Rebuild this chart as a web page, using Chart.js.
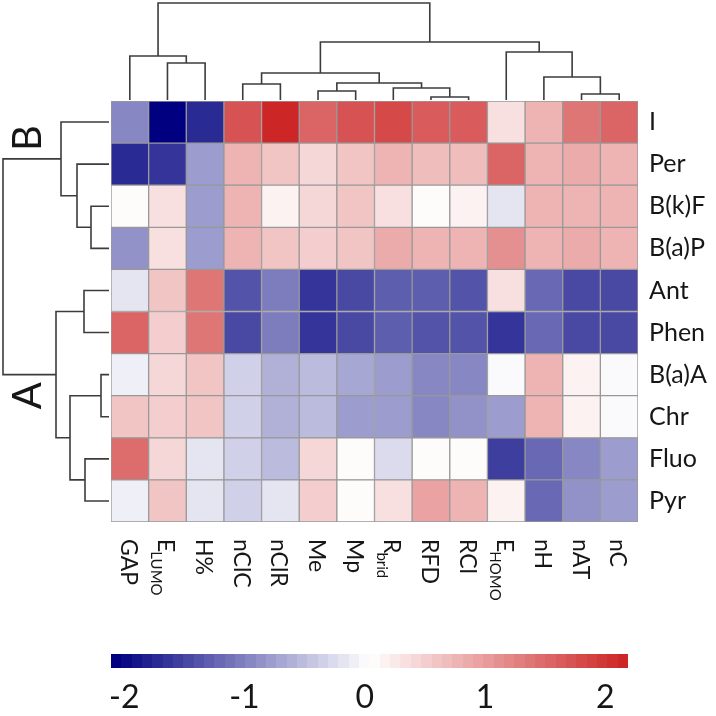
<!DOCTYPE html>
<html><head><meta charset="utf-8">
<script src="https://cdn.jsdelivr.net/npm/chart.js@4.4.1/dist/chart.umd.min.js"></script>
<style>
html,body{margin:0;padding:0;background:#fff;}
#wrap{position:relative;width:716px;height:716px;overflow:hidden;background:#fff;}
.box{position:absolute;}
</style></head><body>
<div id="wrap">
  <div class="box" style="left:0;top:0;width:716px;height:716px"><canvas id="heat"></canvas></div>
  <div class="box" style="left:111px;top:0;width:527px;height:101px"><canvas id="topd"></canvas></div>
  <div class="box" style="left:0;top:101px;width:111px;height:421px"><canvas id="leftd"></canvas></div>
  <div class="box" style="left:0;top:640px;width:716px;height:76px"><canvas id="cbar"></canvas></div>
</div>
<script>
// ---------- DATA ----------
const colLabels = ['GAP','E','H%','nClC','nClR','Me','Mp','R','RFD','RCl','E','nH','nAT','nC'];
const colSubs   = ['','LUMO','','','','','','brid','','','HOMO','','',''];
const rowLabels = ['I','Per','B(k)F','B(a)P','Ant','Phen','B(a)A','Chr','Fluo','Pyr'];

const vI    = [-0.95,-2.11,-1.76, 1.75, 2.19, 1.52, 1.68, 1.78, 1.59, 1.66, 0.31, 0.74, 1.38, 1.58];
const vPer  = [-1.75,-1.68,-0.74, 0.73, 0.58, 0.46, 0.62, 0.73, 0.72, 0.72, 1.58, 0.75, 0.82, 0.75];
const vBkF  = [ 0.10, 0.33,-0.74, 0.75, 0.21, 0.46, 0.63, 0.30, 0.08, 0.18,-0.14, 0.75, 0.80, 0.75];
const vBaP  = [-0.90, 0.38,-0.74, 0.73, 0.58, 0.50, 0.63, 0.85, 0.80, 0.80, 1.14, 0.75, 0.82, 0.75];
const vAnt  = [-0.20, 0.63, 1.37,-1.39,-1.05,-1.60,-1.43,-1.29,-1.27,-1.35, 0.35,-1.20,-1.43,-1.43];
const vPhen = [ 1.53, 0.50, 1.40,-1.43,-1.07,-1.60,-1.43,-1.32,-1.35,-1.39,-1.62,-1.22,-1.43,-1.43];
const vBaA  = [-0.05, 0.45, 0.58,-0.37,-0.64,-0.55,-0.72,-0.80,-0.98,-0.92,-0.03, 0.75, 0.20,-0.02];
const vChr  = [ 0.63, 0.50, 0.58,-0.37,-0.64,-0.55,-0.74,-0.82,-0.98,-0.90,-0.74, 0.75, 0.20,-0.02];
const vFluo = [ 1.50, 0.45,-0.18,-0.37,-0.50, 0.46, 0.06,-0.24, 0.07, 0.08,-1.58,-1.22,-0.92,-0.76];
const vPyr  = [-0.10, 0.58,-0.18,-0.33,-0.20, 0.50, 0.08, 0.30, 0.98, 0.77, 0.20,-1.22,-0.90,-0.74];

// dendrograms, hclust style: negative = leaf (display order, 1-based), positive = earlier merge (1-based); third = height
const colMerges = [
  [-9,-10,3],[-13,-14,6],[-6,-7,9],[-8,1,12],[-4,-5,16],[3,4,17],
  [-12,2,23],[5,6,27],[-2,-3,37],[-1,9,44],[-11,7,48],[8,11,58],[10,12,97]
];
const rowMerges = [
  [-7,-8,8],[-3,-4,18],[-9,-10,24],[-5,-6,25],[-2,2,32],[1,3,39],[-1,5,48],[4,6,53],[7,8,106]
];
const clusterLabels = ['B','A'];
const colorbarTicks = [-2,-1,0,1,2];

// ---------- COLOURS (navy - white - firebrick3, 50 bins) ----------
const values = [vI,vPer,vBkF,vBaP,vAnt,vPhen,vBaA,vChr,vFluo,vPyr];
const allVals = values.flat();
const vmin = Math.min(...allVals), vmax = Math.max(...allVals);
const nBins = 50;
function ramp(t){
  const navy=[0,0,128], white=[255,255,255], fb=[205,38,38];
  let a,b,f;
  if(t<=0.5){a=navy;b=white;f=t/0.5;} else {a=white;b=fb;f=(t-0.5)/0.5;}
  const c=a.map((x,i)=>Math.round(x+(b[i]-x)*f));
  return `rgb(${c[0]},${c[1]},${c[2]})`;
}
const binColors = Array.from({length:nBins},(_,k)=>ramp(k/(nBins-1)));
function colorFor(v){
  let k=Math.floor((v-vmin)/(vmax-vmin)*nBins);
  k=Math.max(0,Math.min(nBins-1,k));
  return binColors[k];
}

const FONT = "Lato, 'Open Sans', sans-serif";
const TXT = '#161616';

// ---------- HEATMAP ----------
const heatDatasets = [];
for(let r=rowLabels.length-1;r>=0;r--){
  heatDatasets.push({
    label: rowLabels[r],
    data: colLabels.map(()=>1),
    backgroundColor: values[r].map(colorFor),
    borderColor:'#999999', borderWidth:1, borderSkipped:false,
    barPercentage:1, categoryPercentage:1
  });
}
const labelPlugin = {
  id:'labels',
  afterDraw(chart){
    const ctx=chart.ctx, ca=chart.chartArea, xs=chart.scales.x, ys=chart.scales.y;
    ctx.save();
    ctx.fillStyle=TXT;
    // row labels
    ctx.font=`25px ${FONT}`; ctx.textAlign='left'; ctx.textBaseline='middle';
    rowLabels.forEach((lab,r)=>{
      ctx.fillText(lab, ca.right+11, ys.getPixelForValue(rowLabels.length-r-0.5));
    });
    // column labels (rotated, reading downwards)
    colLabels.forEach((lab,i)=>{
      const cx=xs.getPixelForValue(i);
      ctx.save();
      ctx.translate(cx, ca.bottom+17);
      ctx.rotate(Math.PI/2);
      ctx.textAlign='left'; ctx.textBaseline='alphabetic';
      ctx.font=`23px ${FONT}`;
      ctx.fillText(lab,0,9);
      if(colSubs[i]){
        const w=ctx.measureText(lab).width;
        ctx.font=`15px ${FONT}`;
        ctx.fillText(colSubs[i], w-1, 16);
      }
      ctx.restore();
    });
    ctx.restore();
  }
};
new Chart(document.getElementById('heat'),{
  type:'bar',
  data:{labels:colLabels.map((l,i)=>l+colSubs[i]), datasets:heatDatasets},
  options:{
    responsive:true, maintainAspectRatio:false, animation:false,
    layout:{padding:{left:111,right:78,top:101,bottom:194}},
    scales:{
      x:{stacked:true, display:false},
      y:{stacked:true, display:false, min:0, max:rowLabels.length}
    },
    plugins:{legend:{display:false}, tooltip:{enabled:false}}
  },
  plugins:[labelPlugin]
});

// ---------- DENDROGRAMS ----------
function buildLinks(merges){
  const pos=[], ht=[], links=[];
  merges.forEach(([a,b,h],i)=>{
    const pa = a<0 ? -a-1 : pos[a-1], ha = a<0 ? 0 : ht[a-1];
    const pb = b<0 ? -b-1 : pos[b-1], hb = b<0 ? 0 : ht[b-1];
    pos[i]=(pa+pb)/2; ht[i]=h;
    links.push([[pa,ha],[pa,h],[pb,h],[pb,hb]]);
  });
  return {links,pos,ht};
}
const lineStyle = {showLine:true, pointRadius:0, borderColor:'#3c3c3c', borderWidth:1.6, clip:false, tension:0};
const topL = buildLinks(colMerges);
new Chart(document.getElementById('topd'),{
  type:'scatter',
  data:{datasets: topL.links.map(l=>Object.assign({data:l.map(p=>({x:p[0],y:p[1]}))},lineStyle))},
  options:{
    responsive:true, maintainAspectRatio:false, animation:false,
    layout:{padding:0},
    scales:{x:{type:'linear',min:-0.5,max:colLabels.length-0.5,display:false},
            y:{type:'linear',min:-1,max:100,display:false}},
    plugins:{legend:{display:false},tooltip:{enabled:false}}
  }
});
const leftL = buildLinks(rowMerges);
const abPlugin = {
  id:'ab',
  afterDraw(chart){
    const ctx=chart.ctx, xs=chart.scales.x, ys=chart.scales.y;
    const spots=[[83,0.38],[83,6.5]];
    ctx.save();
    ctx.fillStyle=TXT; ctx.font=`40px ${FONT}`; ctx.textAlign='center'; ctx.textBaseline='middle';
    clusterLabels.forEach((lab,i)=>{
      ctx.save();
      ctx.translate(xs.getPixelForValue(spots[i][0]), ys.getPixelForValue(spots[i][1]));
      ctx.rotate(-Math.PI/2);
      ctx.fillText(lab,0,2);
      ctx.restore();
    });
    ctx.restore();
  }
};
new Chart(document.getElementById('leftd'),{
  type:'scatter',
  data:{datasets: leftL.links.map(l=>Object.assign({data:l.map(p=>({x:p[1],y:p[0]}))},lineStyle))},
  options:{
    responsive:true, maintainAspectRatio:false, animation:false,
    layout:{padding:0},
    scales:{x:{type:'linear',reverse:true,min:-2,max:109,display:false},
            y:{type:'linear',reverse:true,min:-0.5,max:rowLabels.length-0.5,display:false}},
    plugins:{legend:{display:false},tooltip:{enabled:false}}
  },
  plugins:[abPlugin]
});

// ---------- COLOUR BAR ----------
new Chart(document.getElementById('cbar'),{
  type:'bar',
  data:{labels:['scale'], datasets:[{
    data:[[vmin,vmax]],
    backgroundColor:(c)=>{
      const ch=c.chart; if(!ch.chartArea) return binColors[0];
      const xs=ch.scales.x;
      const g=ch.ctx.createLinearGradient(xs.getPixelForValue(vmin),0,xs.getPixelForValue(vmax),0);
      binColors.forEach((col,k)=>{g.addColorStop(k/nBins,col); g.addColorStop(Math.min(1,(k+1)/nBins-1e-4),col);});
      return g;
    },
    borderWidth:0, barPercentage:1, categoryPercentage:1
  }]},
  options:{
    indexAxis:'y', responsive:true, maintainAspectRatio:false, animation:false,
    layout:{padding:{left:111,right:88,top:14,bottom:0}},
    scales:{
      x:{type:'linear', min:vmin, max:vmax,
         grid:{display:false, drawTicks:false}, border:{display:false},
         afterBuildTicks:(s)=>{s.ticks=colorbarTicks.map(v=>({value:v}));},
         afterFit:(s)=>{s.height=48;},
         ticks:{font:{family:FONT,size:32}, color:TXT, padding:10, maxRotation:0}},
      y:{display:false}
    },
    plugins:{legend:{display:false},tooltip:{enabled:false}}
  }
});
</script>
</body></html>
